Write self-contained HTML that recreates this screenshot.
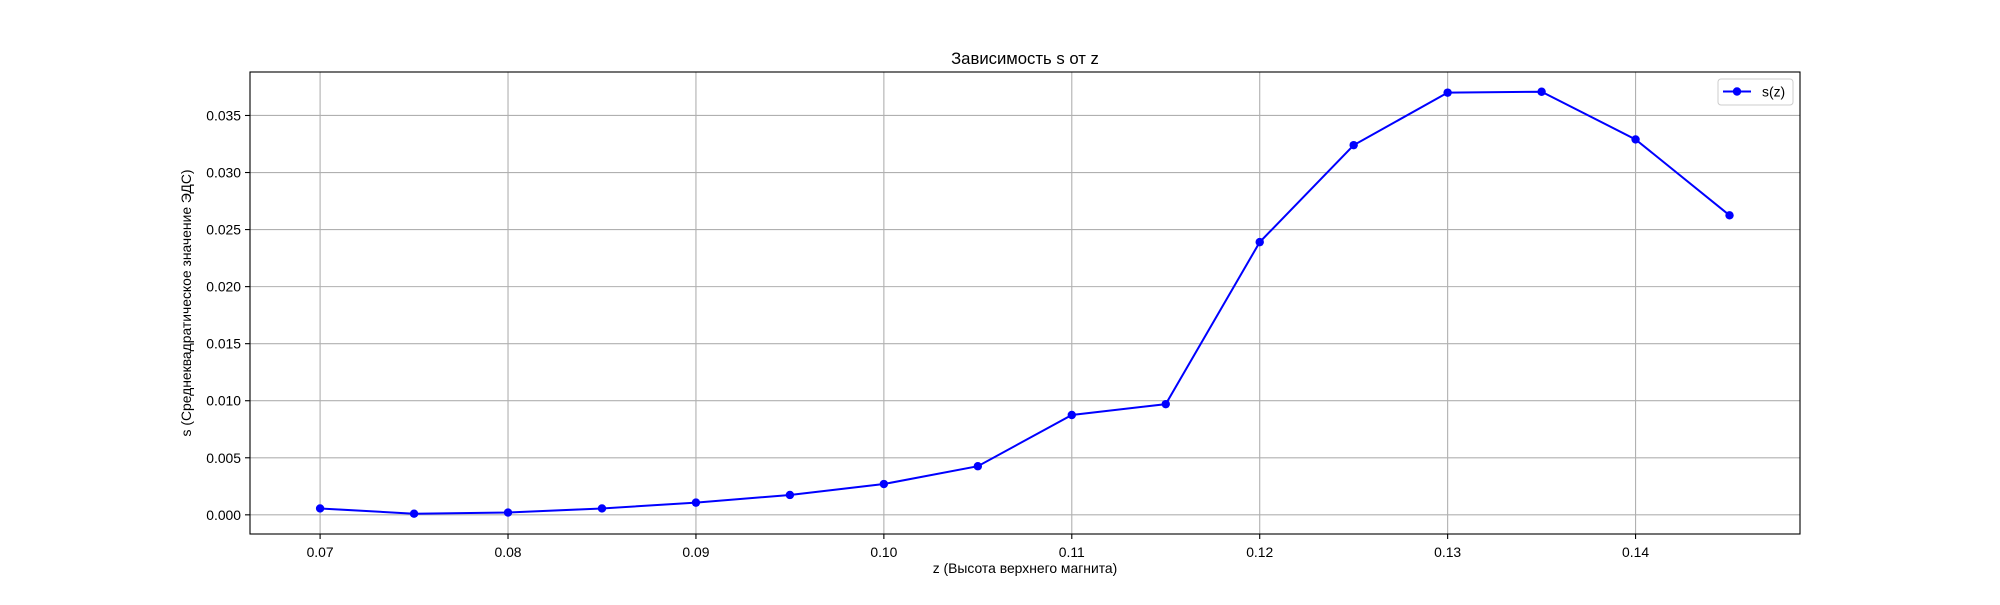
<!DOCTYPE html>
<html><head><meta charset="utf-8"><style>
html,body{margin:0;padding:0;background:#fff;}
svg text{font-family:"Liberation Sans","DejaVu Sans",sans-serif;fill:#000;}
</style></head><body>
<svg id="chart" width="2000" height="600" xmlns="http://www.w3.org/2000/svg">
<rect width="2000" height="600" fill="#fff"/>
<g id="grid"></g>
<g id="axes"></g>
<g id="series"></g>
<text x="1025" y="64" font-size="16.7" text-anchor="middle">Зависимость s от z</text>
<text x="1025" y="573" font-size="13.9" text-anchor="middle">z (Высота верхнего магнита)</text>
<text transform="translate(191,303) rotate(-90)" font-size="13.9" text-anchor="middle">s (Среднеквадратическое значение ЭДС)</text>
<g>
<rect x="1718" y="79" width="75" height="26" fill="#fff" stroke="#ccc" rx="3"/>
<line x1="1723" y1="91.5" x2="1751" y2="91.5" stroke="#0000ff" stroke-width="2"/>
<circle cx="1737" cy="91.5" r="4.2" fill="#0000ff"/>
<text x="1762" y="96.5" font-size="13.9">s(z)</text>
</g>
</svg>
<script>
const zValues=[0.07,0.075,0.08,0.085,0.09,0.095,0.10,0.105,0.11,0.115,0.12,0.125,0.13,0.135,0.14,0.145];
const sValues=[0.00056,0.0001,0.0002,0.00056,0.00107,0.00174,0.0027,0.00426,0.00875,0.0097,0.0239,0.0324,0.0370,0.03708,0.0329,0.02625];
const xTicks=[0.07,0.08,0.09,0.10,0.11,0.12,0.13,0.14];
const xTickLabels=["0.07","0.08","0.09","0.10","0.11","0.12","0.13","0.14"];
const yTicks=[0,0.005,0.01,0.015,0.02,0.025,0.03,0.035];
const yTickLabels=["0.000","0.005","0.010","0.015","0.020","0.025","0.030","0.035"];
const L=250,R=1800,T=72,B=534;
const X0=0.06627,X1=0.14875,Y0=-0.00168,Y1=0.03881;
const xs=v=>L+(v-X0)/(X1-X0)*(R-L);
const ys=v=>B-(v-Y0)/(Y1-Y0)*(B-T);
const NS="http://www.w3.org/2000/svg";
function mk(tag,parent,attrs){const e=document.createElementNS(NS,tag);for(const k in attrs)e.setAttribute(k,attrs[k]);parent.appendChild(e);return e;}
const grid=document.getElementById('grid'),axes=document.getElementById('axes'),ser=document.getElementById('series');
xTicks.forEach((t,i)=>{const x=xs(t);
 const g=mk('line',grid,{x1:x,x2:x,y1:T,y2:B,stroke:'#b0b0b0','stroke-width':1.1});
 
 
 mk('line',axes,{x1:x,x2:x,y1:B,y2:B+5,stroke:'#000','stroke-width':1.1});
 const tx=mk('text',axes,{x:x,y:B+23,'font-size':13.9,'text-anchor':'middle'});tx.textContent=xTickLabels[i];
 
 
});
yTicks.forEach((t,i)=>{const y=ys(t);
 const g=mk('line',grid,{x1:L,x2:R,y1:y,y2:y,stroke:'#b0b0b0','stroke-width':1.1});
 
 
 mk('line',axes,{x1:L-5,x2:L,y1:y,y2:y,stroke:'#000','stroke-width':1.1});
 const tx=mk('text',axes,{x:L-9,y:y+5,'font-size':13.9,'text-anchor':'end'});tx.textContent=yTickLabels[i];
 
 
});
mk('rect',axes,{x:L,y:T,width:R-L,height:B-T,fill:'none',stroke:'#000','stroke-width':1.1});
const pts=zValues.map((z,i)=>xs(z)+','+ys(sValues[i])).join(' ');
const pl=mk('polyline',ser,{points:pts,fill:'none',stroke:'#0000ff','stroke-width':2});


zValues.forEach((z,i)=>{const c=mk('circle',ser,{cx:xs(z),cy:ys(sValues[i]),r:4.2,fill:'#0000ff'});
 
 
});
</script>
</body></html>
